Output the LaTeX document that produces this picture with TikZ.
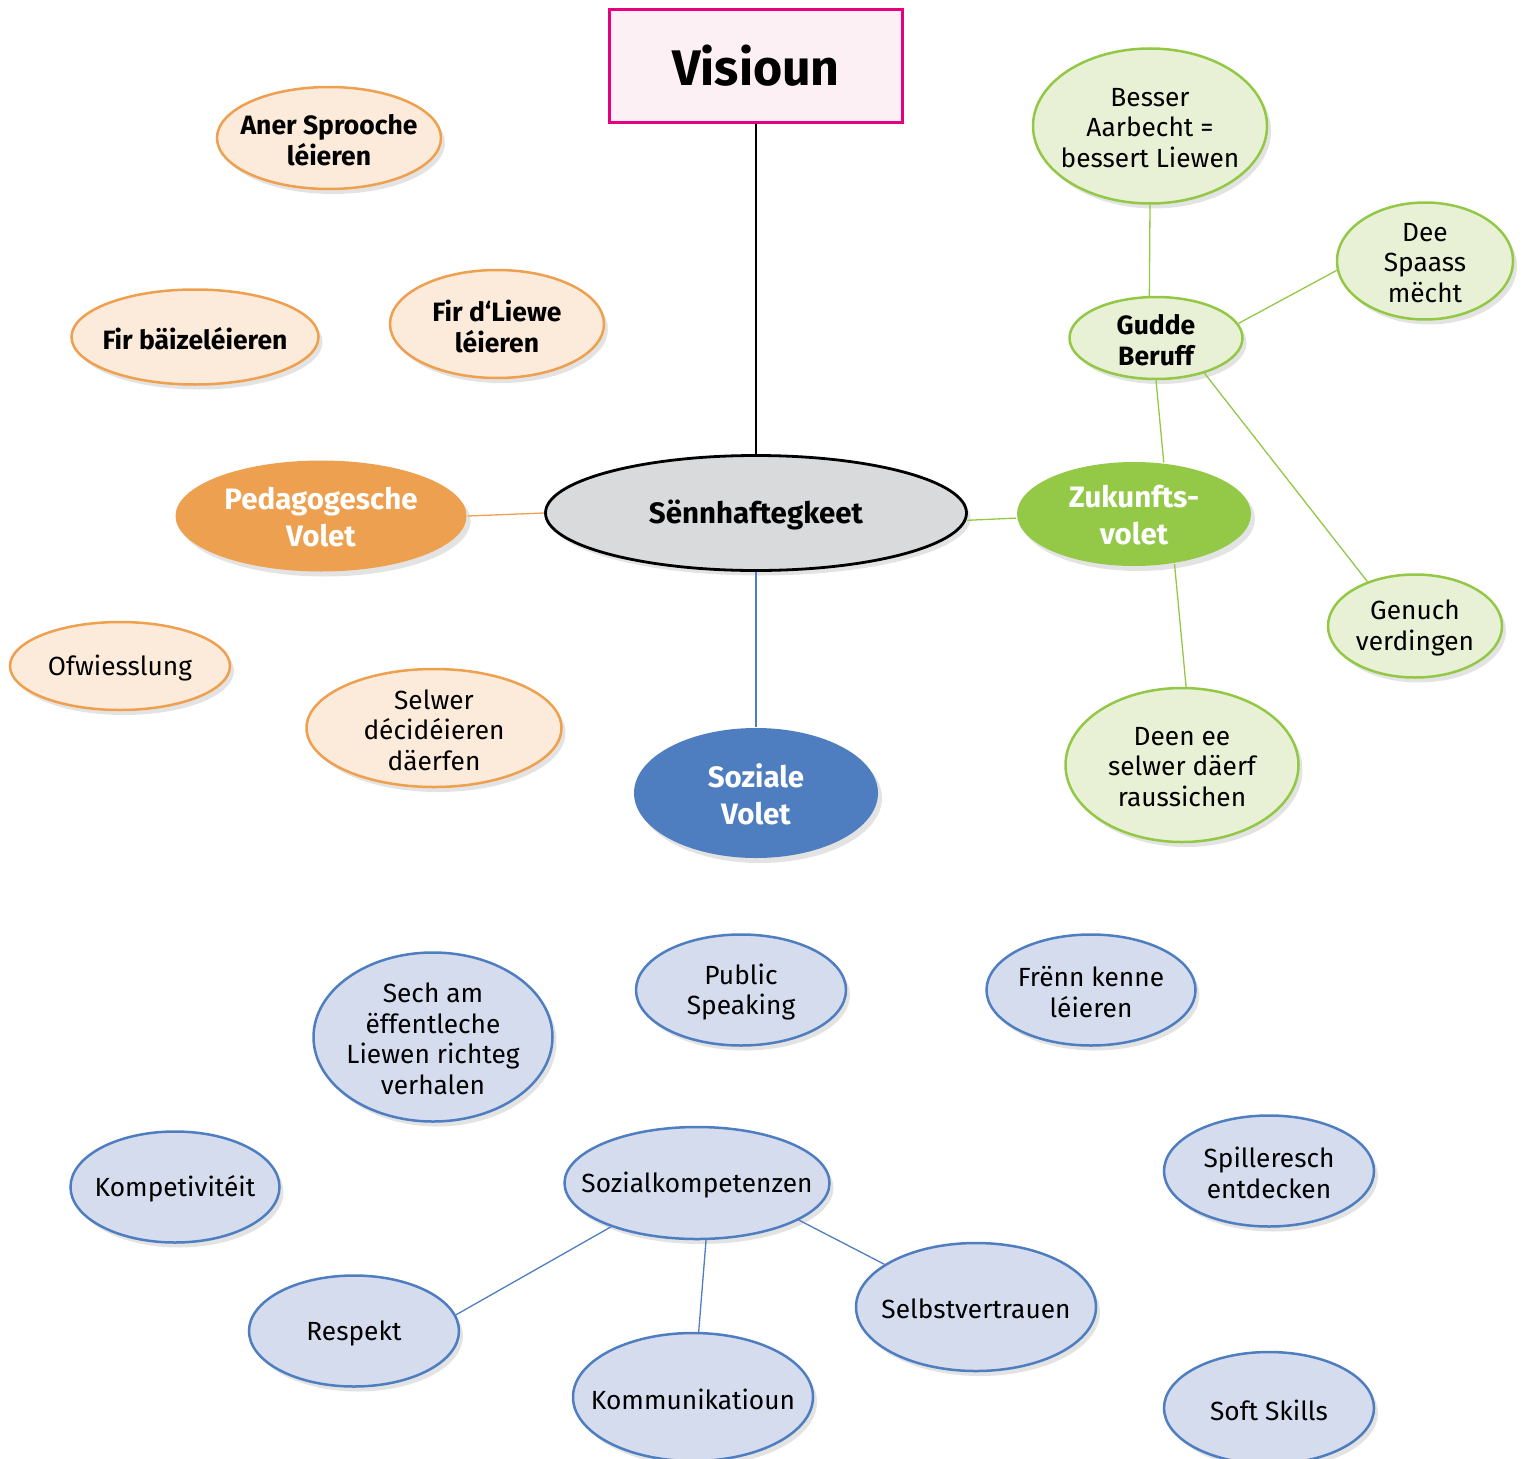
\documentclass[tikz,border=0pt]{standalone}
\usepackage{fontspec}
\setmainfont{Fira Sans}
\usetikzlibrary{shapes.geometric,shadows}
\definecolor{pinkB}{HTML}{E6007E}
\definecolor{pinkF}{HTML}{FDF0F5}
\definecolor{greyF}{HTML}{D9DADC}
\definecolor{oraS}{HTML}{EDA150}
\definecolor{oraF}{HTML}{FCEBDB}
\definecolor{oraB}{HTML}{EEA04F}
\definecolor{grnS}{HTML}{93C947}
\definecolor{grnF}{HTML}{E8F1D6}
\definecolor{grnB}{HTML}{92C846}
\definecolor{bluS}{HTML}{4F7EC0}
\definecolor{bluF}{HTML}{D5DCEE}
\definecolor{bluB}{HTML}{4F7EC0}
\begin{document}
\begin{tikzpicture}[x=1pt,y=-1pt,
  shd/.style={drop shadow={shadow xshift=4pt,shadow yshift=-5pt,opacity=0.11,fill=black}},
  bub/.style={ellipse,inner sep=0pt,line width=2.5pt,shd},
  obub/.style={bub,draw=oraB,fill=oraF},
  gbub/.style={bub,draw=grnB,fill=grnF},
  bbub/.style={bub,draw=bluB,fill=bluF},
  reg/.style={align=center,yshift=-2pt,font=\fontsize{26.3}{30.5}\selectfont},
  bld/.style={align=center,yshift=-2pt,font=\bfseries\fontsize{26.5}{31}\selectfont},
  ttl/.style={align=center,yshift=-1pt,text=white,font=\bfseries\fontsize{29.5}{37}\selectfont},
  olink/.style={draw=oraB,line width=1.3pt},
  glink/.style={draw=grnB,line width=1.3pt},
  blink/.style={draw=bluB,line width=1.3pt},
  klink/.style={draw=black,line width=1.3pt}]
\useasboundingbox (0,0) rectangle (1522,1458);

% central
\node[rectangle,draw=pinkB,fill=pinkF,line width=3.5pt,minimum width=293pt,minimum height=113pt,inner sep=0pt,
  font=\bfseries\fontsize{50}{55}\selectfont] (vis) at (756,66) {Visioun};
\node[bub,draw=black,line width=2.8pt,fill=greyF,minimum width=421pt,minimum height=115pt,
  label={[align=center,yshift=-2pt,font=\bfseries\fontsize{29.5}{37}\selectfont]center:Sënnhaftegkeet}] (sen) at (756,513) {};
\node[bub,draw=none,fill=oraS,minimum width=291pt,minimum height=111pt,
  label={[ttl]center:Pedagogesche\\Volet}] (ped) at (321,516) {};
\node[bub,draw=none,fill=grnS,minimum width=234pt,minimum height=104pt,
  label={[ttl]center:Zukunfts-\\volet}] (zuk) at (1134,514) {};
\node[bub,draw=none,fill=bluS,minimum width=244pt,minimum height=130pt,
  label={[ttl]center:Soziale\\Volet}] (soz) at (756,793) {};

% orange
\node[obub,minimum width=224pt,minimum height=102pt,label={[bld]center:Aner Sprooche\\léieren}] (aner) at (329,138) {};
\node[obub,minimum width=247pt,minimum height=95pt,label={[bld]center:Fir bäizeléieren}] (baiz) at (195,337) {};
\node[obub,minimum width=214pt,minimum height=108pt,label={[bld]center:Fir d‘Liewe\\léieren}] (liewe) at (497,324) {};
\node[obub,minimum width=220pt,minimum height=88pt,label={[reg]center:Ofwiesslung}] (ofw) at (120,666) {};
\node[obub,minimum width=255pt,minimum height=118pt,label={[reg]center:Selwer\\décidéieren\\däerfen}] (selwer) at (434,728) {};

% green
\node[gbub,minimum width=234pt,minimum height=155pt,label={[reg]center:Besser\\Aarbecht =\\bessert Liewen}] (besser) at (1150,126) {};
\node[gbub,minimum width=176pt,minimum height=117pt,label={[reg]center:Dee\\Spaass\\mëcht}] (dee) at (1425,261) {};
\node[gbub,minimum width=173pt,minimum height=82pt,label={[bld]center:Gudde\\Beruff}] (gudde) at (1156,338) {};
\node[gbub,minimum width=174pt,minimum height=103pt,label={[reg]center:Genuch\\verdingen}] (genuch) at (1415,626) {};
\node[gbub,minimum width=233pt,minimum height=154pt,label={[reg]center:Deen ee\\selwer däerf\\raussichen}] (deen) at (1182,765) {};

% blue
\node[bbub,minimum width=239pt,minimum height=169pt,label={[reg]center:Sech am\\ëffentleche\\Liewen richteg\\verhalen}] (sech) at (433,1037) {};
\node[bbub,minimum width=210pt,minimum height=111pt,label={[reg]center:Public\\Speaking}] (public) at (741,990) {};
\node[bbub,minimum width=209pt,minimum height=111pt,label={[reg]center:Frënn kenne\\léieren}] (frenn) at (1091,990) {};
\node[bbub,minimum width=209pt,minimum height=111pt,label={[reg]center:Kompetivitéit}] (kompet) at (175,1187) {};
\node[bbub,minimum width=265pt,minimum height=112pt,label={[reg]center:Sozialkompetenzen}] (sozk) at (697,1183) {};
\node[bbub,minimum width=210pt,minimum height=111pt,label={[reg]center:Spilleresch\\entdecken}] (spill) at (1269,1171) {};
\node[bbub,minimum width=210pt,minimum height=111pt,label={[reg]center:Respekt}] (resp) at (354,1331) {};
\node[bbub,minimum width=240pt,minimum height=128pt,label={[reg]center:Selbstvertrauen}] (selbst) at (976,1307) {};
\node[bbub,minimum width=240pt,minimum height=128pt,label={[reg]center:Kommunikatioun}] (komm) at (693,1397) {};
\node[bbub,minimum width=210pt,minimum height=112pt,label={[reg]center:Soft Skills}] (soft) at (1269,1408) {};

% connectors
\draw[klink] (vis.south) -- (sen.north);
\draw[olink] (ped.east) -- (sen.west);
\draw[glink] (sen.-2.5) -- (zuk.182);
\draw[blink] (sen.south) -- (soz.north);
\draw[glink] (besser.south) -- (gudde.99);
\draw[glink] (gudde.10) -- (dee.186);
\draw[glink] (gudde.south) -- (zuk.60);
\draw[glink] (gudde.-36) -- (genuch.137);
\draw[glink] (zuk.-51) -- (deen.87);
\draw[blink] (sozk.207) -- (resp.9.6);
\draw[blink] (sozk.-81) -- (komm.85);
\draw[blink] (sozk.-20) -- (selbst.155);
\end{tikzpicture}
\end{document}
